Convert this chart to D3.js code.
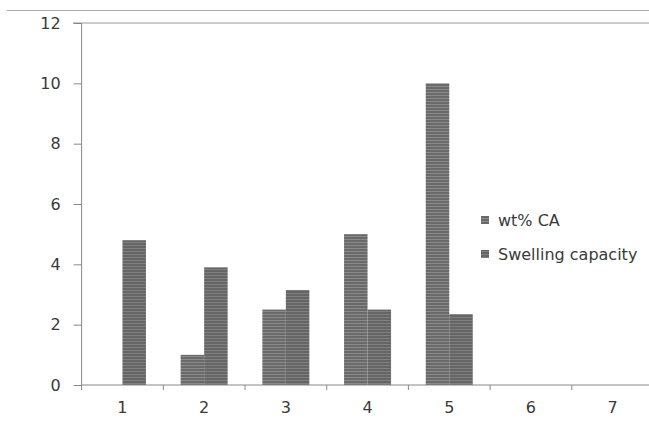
<!DOCTYPE html>
<html><head><meta charset="utf-8">
<script src="https://cdn.jsdelivr.net/npm/d3@7"></script>
<style>html,body{margin:0;padding:0;background:#fff;overflow:hidden}</style>
</head><body>
<svg id="chart" width="649" height="423"></svg>
<script>
const categories = ["1","2","3","4","5","6","7"];
const seriesNames = ["wt% CA","Swelling capacity"];
const wtCA = [0, 1, 2.5, 5, 10, null, null];
const swelling = [4.8, 3.9, 3.15, 2.5, 2.35, null, null];
const yTicks = [0,2,4,6,8,10,12];

const svg = d3.select("#chart");
const defs = svg.append("defs");
function stripe(id, dark, light){
  const p = defs.append("pattern").attr("id", id).attr("patternUnits","userSpaceOnUse")
    .attr("width", 4).attr("height", 3);
  p.append("rect").attr("width",4).attr("height",3).attr("fill", dark);
  p.append("rect").attr("y",2).attr("width",4).attr("height",1).attr("fill", light);
}
stripe("p0", "#6a6a6a", "#8a8a8a");
stripe("p1", "#666666", "#7e7e7e");

const font = "DejaVu Sans, Verdana, sans-serif";
const x0 = 81.6, bandW = 81.7;
const x = d3.scaleBand().domain(categories).range([x0, x0 + bandW*categories.length]).padding(0);
const y = d3.scaleLinear().domain([0,12]).range([385, 23]);
const bw = 23.5;
const xs = d3.scaleBand().domain(seriesNames).range([-bw, bw]).padding(0);

// top border line
svg.append("line").attr("x1",7).attr("x2",649).attr("y1",10.5).attr("y2",10.5)
  .attr("stroke","#aaa").attr("stroke-width",1.2);

// top gridline at 12
svg.append("line").attr("x1",73).attr("x2",649).attr("y1",y(12)).attr("y2",y(12))
  .attr("stroke","#999").attr("stroke-width",1);

// bars
const data = [wtCA, swelling];
data.forEach((vals, si) => {
  svg.append("g").selectAll("rect").data(categories.map((c,i)=>({c, v: vals[i]})).filter(d=>d.v))
    .join("rect")
    .attr("x", d => x(d.c) + x.bandwidth()/2 + xs(seriesNames[si]))
    .attr("width", xs.bandwidth())
    .attr("y", d => y(d.v))
    .attr("height", d => y(0) - y(d.v))
    .attr("fill", `url(#p${si})`);
});

// y axis
const yAxis = d3.axisLeft(y).tickValues(yTicks).tickSize(8).tickPadding(13);
const gy = svg.append("g").attr("transform", `translate(${x0},0)`).call(yAxis);
gy.select(".domain").attr("stroke","#888").attr("d", `M0,${y(12)}V${y(0)+5}`);
gy.selectAll(".tick line").attr("stroke","#888");
gy.selectAll(".tick text").attr("fill","#3a3a3a").style("font-family",font).style("font-size","16px");

// x axis
const xAxis = d3.axisBottom(x).tickSize(0).tickPadding(17);
const gx = svg.append("g").attr("transform", `translate(0,${y(0)})`).call(xAxis);
gx.select(".domain").attr("stroke","#888").attr("d", `M${x0},0H649`);
gx.selectAll(".tick text").attr("fill","#3a3a3a").style("font-family",font).style("font-size","16px");
// boundary ticks
svg.append("g").selectAll("line").data(categories)
  .join("line")
  .attr("x1", d => x(d) + bandW).attr("x2", d => x(d) + bandW)
  .attr("y1", y(0)).attr("y2", y(0)+5).attr("stroke","#888");

// legend
const lg = svg.append("g").attr("transform","translate(481,0)");
const ly = [220, 254];
seriesNames.forEach((n,i)=>{
  lg.append("rect").attr("x",0).attr("y",ly[i]-4).attr("width",8).attr("height",8).attr("fill",`url(#p${i})`);
  lg.append("text").attr("x",17).attr("y",ly[i]).attr("dy","0.35em").text(n)
    .attr("fill","#3a3a3a").style("font-family",font).style("font-size","16px");
});
</script>
</body></html>
